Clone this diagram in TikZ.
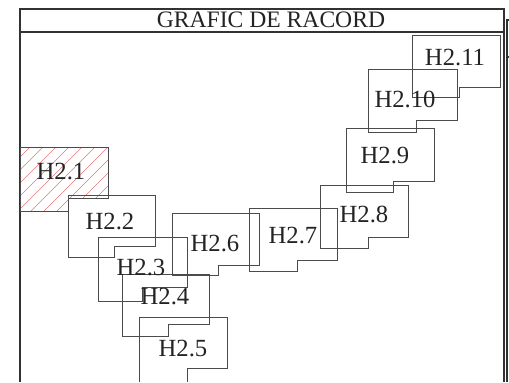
\documentclass[tikz,border=0pt]{standalone}
\usepackage{fontspec}
\setmainfont{Liberation Serif}

\begin{document}
\begin{tikzpicture}[x=0.75pt,y=0.75pt,yscale=-1,xscale=1,
  frame/.style={draw={rgb, 255:red, 50; green, 50; blue, 50 }, line width=0.8pt},
  sheet/.style={draw={rgb, 255:red, 75; green, 75; blue, 75 }, line width=0.6pt},
  hatch/.style={draw={rgb, 255:red, 230; green, 120; blue, 125 }, line width=0.5pt},
  sheetlabel/.style={font=\fontsize{18.5}{20}\selectfont, inner sep=0pt, text={rgb, 255:red, 35; green, 35; blue, 35 }}]
\useasboundingbox (0,0) rectangle (509,382);

%Frame
\draw [frame] (20,382) -- (20,9) -- (504,9) -- (504,382) ;
\draw [frame] (20,32) -- (504,32) ;
\draw [frame] (509,20) -- (507,20) -- (507,382) ;
\draw [frame] (507,57) -- (509,57) ;

% Text Node
\node (title) [font=\fontsize{17.7}{20}\selectfont, inner sep=0pt, text={rgb, 255:red, 35; green, 35; blue, 35 }] at (271,20) {GRAFIC DE RACORD};

%Hatching of H2.1
\begin{scope}
\clip (20,147) -- (108,147) -- (108,198) -- (68,198) -- (68,211) -- (20,211) -- cycle ;
\foreach \x in {-60,-47,...,110}
  \draw [hatch] (\x,211) -- ++(64,-64) ;
\end{scope}

%Sheets
\draw [sheet] (20,147) -- (108,147) -- (108,198) -- (68,198) -- (68,211) -- (20,211) -- cycle ;
\draw [sheet] (68,195) -- (155,195) -- (155,246) -- (114,246) -- (114,257) -- (68,257) -- cycle ;
\draw [sheet] (98,237) -- (187,237) -- (187,287) -- (142,287) -- (142,301) -- (98,301) -- cycle ;
\draw [sheet] (122,274) -- (209,274) -- (209,324) -- (168,324) -- (168,336) -- (122,336) -- cycle ;
\draw [sheet] (139,382) -- (139,317) -- (227,317) -- (227,368) -- (187,368) -- (187,382) ;
\draw [sheet] (172,213) -- (259,213) -- (259,265) -- (218,265) -- (218,275) -- (172,275) -- cycle ;
\draw [sheet] (249,208) -- (337,208) -- (337,260) -- (297,260) -- (297,271) -- (249,271) -- cycle ;
\draw [sheet] (320,185) -- (408,185) -- (408,237) -- (368,237) -- (368,248) -- (320,248) -- cycle ;
\draw [sheet] (346,128) -- (434,128) -- (434,181) -- (393,181) -- (393,192) -- (346,192) -- cycle ;
\draw [sheet] (368,69) -- (457,69) -- (457,120) -- (416,120) -- (416,132) -- (368,132) -- cycle ;
\draw [sheet] (412,35) -- (500,35) -- (500,87) -- (459,87) -- (459,97) -- (412,97) -- cycle ;

% Text Nodes
\node (h21) [sheetlabel] at (61,172) {H2.1};
\node (h22) [sheetlabel] at (110,222) {H2.2};
\node (h23) [sheetlabel] at (141,268) {H2.3};
\node (h24) [sheetlabel] at (165,297) {H2.4};
\node (h25) [sheetlabel] at (183,349) {H2.5};
\node (h26) [sheetlabel] at (215,244) {H2.6};
\node (h27) [sheetlabel] at (293,236) {H2.7};
\node (h28) [sheetlabel] at (364,214) {H2.8};
\node (h29) [sheetlabel] at (385,156) {H2.9};
\node (h210) [sheetlabel] at (405,99) {H2.10};
\node (h211) [sheetlabel] at (455,58) {H2.11};
\end{tikzpicture}
\end{document}
